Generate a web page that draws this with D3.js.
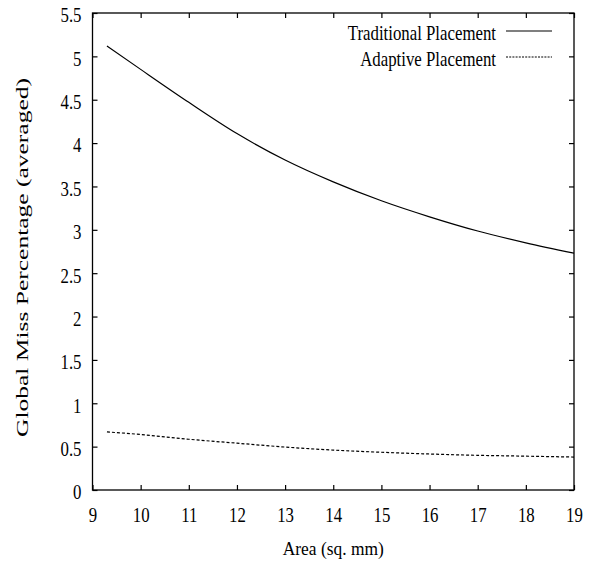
<!DOCTYPE html>
<html>
<head>
<meta charset="utf-8">
<script src="https://cdn.jsdelivr.net/npm/d3@7"></script>
<style>
  body { margin: 0; background: #fff; }
</style>
</head>
<body>
<svg id="chart" width="592" height="571"></svg>
<script>
// values
const areas = [9.3, 10, 11, 12, 13, 14, 15, 16, 17, 18, 19];
const traditional = [5.12, 4.85, 4.47, 4.11, 3.805, 3.553, 3.335, 3.15, 2.986, 2.85, 2.73];
const adaptive = [0.67, 0.64, 0.585, 0.54, 0.495, 0.46, 0.435, 0.415, 0.4, 0.39, 0.38];
const xTicks = [9, 10, 11, 12, 13, 14, 15, 16, 17, 18, 19];
const yTicks = [0, 0.5, 1, 1.5, 2, 2.5, 3, 3.5, 4, 4.5, 5, 5.5];
const seriesNames = ["Traditional Placement", "Adaptive Placement"];

const FONT = "'Liberation Serif', 'Times New Roman', serif";
const margin = { top: 13, right: 18, bottom: 81, left: 92.5 };
const width = 592, height = 571;

const svg = d3.select("#chart");

const x = d3.scaleLinear().domain([9, 19]).range([margin.left, width - margin.right]);
const y = d3.scaleLinear().domain([0, 5.5]).range([height - margin.bottom, margin.top]);

const tickLen = 5;

// the original text is squeezed sideways, so shrink each string along its run
function squeeze(sel, factor) {
  sel.each(function () {
    const len = this.getComputedTextLength();
    d3.select(this)
      .attr("textLength", len * factor)
      .attr("lengthAdjust", "spacingAndGlyphs");
  });
}

// frame
svg.append("rect")
  .attr("x", x(9))
  .attr("y", y(5.5))
  .attr("width", x(19) - x(9))
  .attr("height", y(0) - y(5.5))
  .attr("fill", "none")
  .attr("stroke", "#000")
  .attr("stroke-width", 1.3);

function styleAxis(g) {
  g.select(".domain").remove();
  g.selectAll(".tick line").attr("stroke", "#000").attr("stroke-width", 1.2);
  g.selectAll(".tick text")
    .style("font-family", FONT)
    .style("font-size", "21px")
    .attr("fill", "#000");
}

// bottom axis with labels, top copy with inward ticks only
const xAxisG = svg.append("g")
  .attr("transform", `translate(0,${y(0)})`)
  .call(d3.axisBottom(x).tickValues(xTicks).tickFormat(d3.format("d")).tickSizeInner(-tickLen).tickPadding(17))
  .call(styleAxis);
xAxisG.selectAll(".tick text").call(squeeze, 0.8);

svg.append("g")
  .attr("transform", `translate(0,${y(5.5)})`)
  .call(d3.axisTop(x).tickValues(xTicks).tickSizeInner(-tickLen).tickFormat(""))
  .call(styleAxis);

const yAxisG = svg.append("g")
  .attr("transform", `translate(${x(9)},0)`)
  .call(d3.axisLeft(y).tickValues(yTicks).tickFormat((d) => String(d)).tickSizeInner(-tickLen).tickPadding(11))
  .call(styleAxis);
yAxisG.selectAll(".tick text").attr("dy", "0.42em").call(squeeze, 0.8);

svg.append("g")
  .attr("transform", `translate(${x(19)},0)`)
  .call(d3.axisRight(y).tickValues(yTicks).tickSizeInner(-tickLen).tickFormat(""))
  .call(styleAxis);

// lines
const line = d3.line()
  .x((d) => x(d[0]))
  .y((d) => y(d[1]))
  .curve(d3.curveMonotoneX);

svg.append("path")
  .datum(areas.map((a, i) => [a, traditional[i]]))
  .attr("d", line)
  .attr("fill", "none")
  .attr("stroke", "#000")
  .attr("stroke-width", 1.2);

svg.append("path")
  .datum(areas.map((a, i) => [a, adaptive[i]]))
  .attr("d", line)
  .attr("fill", "none")
  .attr("stroke", "#000")
  .attr("stroke-width", 1.2)
  .attr("stroke-dasharray", "3,2");

// legend
const legend = svg.append("g");
const legendRows = [
  { name: seriesNames[0], dash: null, y: 31 },
  { name: seriesNames[1], dash: "2,1.2", y: 57 },
];
legendRows.forEach((r) => {
  legend.append("text")
    .attr("x", 496)
    .attr("y", r.y + 9)
    .attr("text-anchor", "end")
    .style("font-family", FONT)
    .style("font-size", "21px")
    .text(r.name)
    .call(squeeze, 0.8);
  legend.append("line")
    .attr("x1", 506)
    .attr("x2", 552)
    .attr("y1", r.y)
    .attr("y2", r.y)
    .attr("stroke", "#000")
    .attr("stroke-width", 1.2)
    .attr("stroke-dasharray", r.dash);
});

// axis titles
svg.append("text")
  .attr("x", (x(9) + x(19)) / 2)
  .attr("y", 555)
  .attr("text-anchor", "middle")
  .style("font-family", FONT)
  .style("font-size", "18px")
  .attr("textLength", 101)
  .attr("lengthAdjust", "spacingAndGlyphs")
  .text("Area (sq. mm)");

svg.append("text")
  .attr("transform", `translate(28,${(y(0) + y(5.5)) / 2 + 6}) rotate(-90)`)
  .attr("text-anchor", "middle")
  .style("font-family", FONT)
  .style("font-size", "17px")
  .attr("textLength", 359)
  .attr("lengthAdjust", "spacingAndGlyphs")
  .text("Global Miss Percentage (averaged)");
</script>
</body>
</html>
